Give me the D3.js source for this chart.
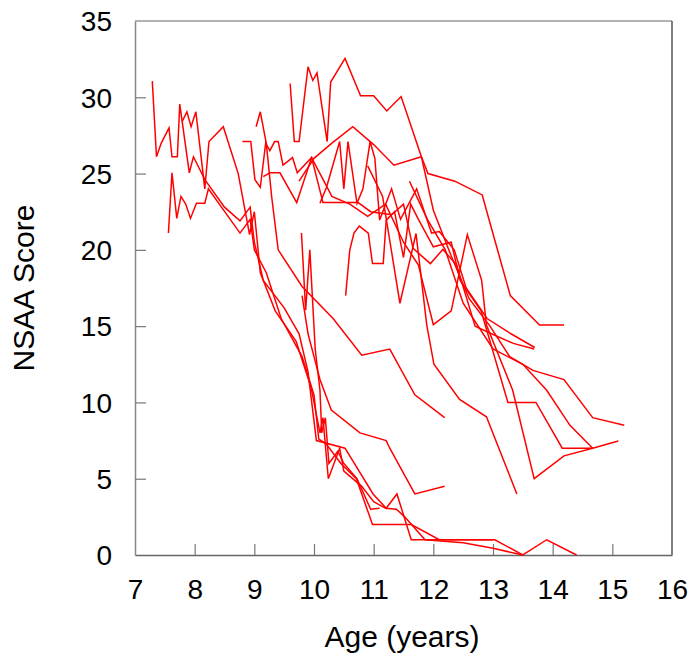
<!DOCTYPE html>
<html>
<head>
<meta charset="utf-8">
<script src="https://cdn.jsdelivr.net/npm/d3@7"></script>
<style>
  html, body { margin: 0; padding: 0; background: #fff; }
  svg { display: block; }
  text { font-family: "Liberation Sans", Arial, Helvetica, sans-serif; fill: #000; }
</style>
</head>
<body>
<svg id="chart" width="694" height="653"></svg>
<script>
// ---- data: each subject is a list of [age (years), NSAA score] ----
const s01 = [[9.6,30.9],[9.67,27.1],[9.75,27.1],[9.9,32.0],[9.98,31.1],[10.05,31.6],[10.22,27.1],[10.28,31.0],[10.52,32.55],[10.78,30.1],[11.0,30.1],[11.22,29.1],[11.46,30.05],[11.8,26.1],[12.0,22.6],[12.3,19.6],[12.6,16.8],[12.95,15.0],[13.28,13.0],[13.67,12.1],[14.19,11.5],[14.67,9.0],[15.2,8.5]];
const s02 = [[9.75,24.5],[10.0,26.0],[10.3,27.0],[10.65,28.07],[11.0,26.9],[11.34,25.55],[11.8,26.1],[11.91,25.0],[12.36,24.5],[12.82,23.6],[12.89,22.6],[13.29,17.0],[13.78,15.07],[14.19,15.07]];
const s03 = [[7.29,31.06],[7.36,26.1],[7.44,27.0],[7.57,28.0],[7.62,26.1],[7.71,26.1],[7.75,29.55],[7.91,25.05],[7.98,26.1],[8.17,24.6],[8.5,22.8],[8.76,21.9],[8.93,22.8],[9.0,20.5],[9.15,18.0],[9.5,16.2],[9.75,14.5],[9.9,12.0],[10.04,7.5],[10.52,7.0],[10.99,4.0],[11.21,3.06],[11.39,4.0],[11.63,1.0],[12.05,1.0],[13.03,1.0],[13.5,0],[13.9,1.0],[14.4,0]];
const s04 = [[7.79,28.4],[7.87,29.05],[7.94,28.07],[8.02,29.05],[8.17,24.0],[8.24,27.1],[8.48,28.07],[8.73,25.0],[8.92,21.0],[9.0,22.5],[9.1,18.5],[9.35,16.0],[9.7,14.0],[9.95,11.0],[10.1,8.0],[10.15,9.0],[10.24,5.0],[10.43,7.0],[10.5,5.5],[10.8,4.5],[11.0,3.5],[11.2,3.06],[11.38,3.0],[11.52,2.5],[11.86,1.0],[12.5,0.8],[13.0,0.44],[13.5,0]];
const s05 = [[7.56,21.1],[7.62,25.05],[7.70,22.06],[7.77,23.5],[7.85,23.0],[7.93,22.06],[8.03,23.05],[8.17,23.05],[8.23,24.0],[8.76,21.1],[8.93,22.0],[9.0,20.0],[9.2,18.5],[9.45,15.5],[9.8,13.0],[10.0,10.5],[10.08,7.6],[10.2,7.3],[10.45,6.0],[10.71,5.0],[10.98,2.0],[11.63,2.0],[12.1,1.0],[13.0,1.0]];
const s06 = [[9.03,28.07],[9.1,29.05],[9.2,27.0],[9.29,23.5],[9.4,20.0],[9.8,17.6],[10.32,15.5],[10.8,13.1],[11.27,13.5],[11.69,10.5],[12.19,9.0]];
const s07 = [[8.8,27.1],[8.94,27.1],[9.01,24.6],[9.1,24.1],[9.19,27.0],[9.26,26.5],[9.34,27.1],[9.4,27.1],[9.48,25.55],[9.64,26.05],[9.72,25.05],[9.96,26.05],[10.15,23.1],[10.74,23.1],[10.95,22.5],[11.3,22.3],[11.5,23.0],[11.66,20.1],[11.95,19.1],[12.16,20.03],[12.39,19.0],[12.7,15.0],[13.03,14.4],[13.34,13.87],[13.69,13.5]];
const s08 = [[9.15,24.8],[9.26,25.05],[9.43,25.05],[9.71,23.1],[9.96,26.05],[10.3,23.5],[10.6,23.0],[10.9,22.2],[11.2,23.0],[11.5,20.5],[11.75,19.0],[12.0,15.1],[12.3,16.0],[12.57,21.0],[12.81,18.0],[12.89,15.07],[13.33,10.8],[13.69,5.0],[14.19,6.5],[14.67,7.0],[15.1,7.47]];
const s09 = [[9.8,17.0],[9.9,14.5],[10.0,13.0],[10.1,11.5],[10.29,9.5],[10.77,8.0],[11.21,7.5],[11.27,7.0],[11.69,4.0],[12.19,4.5]];
const s10 = [[9.79,21.1],[9.86,16.05],[9.93,20.0],[10.02,13.5],[10.1,10.8],[10.13,8.0],[10.19,9.0],[10.25,6.0],[10.4,6.8],[10.5,6.0],[10.72,5.0],[10.95,3.0],[11.1,3.06]];
const s11 = [[10.53,17.0],[10.6,20.0],[10.67,21.1],[10.76,21.56],[10.91,21.1],[10.98,19.1],[11.16,19.1],[11.21,21.95],[11.35,22.5],[11.5,19.5],[11.62,23.0],[11.75,22.0],[12.0,20.2],[12.3,20.5],[12.45,18.0],[12.8,16.0],[13.25,10.0],[13.72,10.0],[14.16,7.0],[14.67,7.0]];
const s12 = [[10.9,25.5],[11.15,23.5],[11.44,16.5],[11.71,21.07],[11.89,15.07],[12.01,12.5],[12.44,10.2],[12.89,9.06],[13.4,4.0]];
const s13 = [[11.6,24.5],[11.9,22.0],[12.2,20.0],[12.5,16.5],[13.0,13.5],[13.5,12.5],[13.9,10.8],[14.29,8.5],[14.67,7.0]];
const s14 = [[10.1,23.05],[10.21,24.1],[10.43,27.1],[10.5,24.0],[10.57,27.1],[10.72,23.05],[10.82,24.0],[10.94,27.1],[11.02,26.0],[11.1,21.95],[11.3,24.0],[11.45,22.0],[11.72,24.0],[11.97,21.1],[12.1,21.2],[12.35,20.0],[12.55,17.5],[12.9,15.5],[13.3,14.5],[13.7,13.6]];
const subjects = [s01, s02, s03, s04, s05, s06, s07, s08, s09, s10, s11, s12, s13, s14];

const xTicks = [7, 8, 9, 10, 11, 12, 13, 14, 15, 16];
const yTicks = [0, 5, 10, 15, 20, 25, 30, 35];
const xTitle = "Age (years)";
const yTitle = "NSAA Score";

// ---- layout ----
const svg = d3.select("#chart");
const x = d3.scaleLinear().domain([7, 16]).range([135, 672]);
const y = d3.scaleLinear().domain([0, 35]).range([555, 21]);

// frame
const frame = svg.append("g");
frame.append("line").attr("x1", x(7)).attr("x2", x(16)).attr("y1", y(35)).attr("y2", y(35))
  .attr("stroke", "#999").attr("stroke-width", 1.5);
frame.append("line").attr("x1", x(16)).attr("x2", x(16)).attr("y1", y(35)).attr("y2", y(0))
  .attr("stroke", "#555").attr("stroke-width", 1.5);

// x axis (ticks inward)
const xAxis = svg.append("g").attr("transform", `translate(0,${y(0)})`)
  .call(d3.axisBottom(x).tickValues(xTicks).tickSizeInner(-11).tickSizeOuter(0).tickFormat(d3.format("d")));
xAxis.select(".domain").attr("stroke", "#666").attr("stroke-width", 1.5);
xAxis.selectAll(".tick line").attr("stroke", "#777").attr("stroke-width", 1.2);
xAxis.selectAll(".tick text").attr("font-size", 28).attr("y", 44).attr("dy", 0)
  .style("font-family", '"Liberation Sans", Arial, sans-serif').attr("fill", "#000");

// y axis (ticks inward)
const yAxis = svg.append("g").attr("transform", `translate(${x(7)},0)`)
  .call(d3.axisLeft(y).tickValues(yTicks).tickSizeInner(-11).tickSizeOuter(0).tickFormat(d3.format("d")));
yAxis.select(".domain").attr("stroke", "#888").attr("stroke-width", 1.5);
yAxis.selectAll(".tick line").attr("stroke", "#777").attr("stroke-width", 1.2);
yAxis.selectAll(".tick text").attr("font-size", 28).attr("x", -23).attr("dy", "0.35em")
  .style("font-family", '"Liberation Sans", Arial, sans-serif').attr("fill", "#000");
// hide ticks at the extreme ends that sit on the frame
xAxis.selectAll(".tick").filter(d => d === 7 || d === 16).select("line").remove();
yAxis.selectAll(".tick").filter(d => d === 0 || d === 35).select("line").remove();

// lines
const line = d3.line().x(d => x(d[0])).y(d => y(d[1]));
svg.append("g").selectAll("path").data(subjects).join("path")
  .attr("d", line)
  .attr("fill", "none")
  .attr("stroke", "#ff0000")
  .attr("stroke-width", 1.5)
  .attr("stroke-linejoin", "miter");

// titles
svg.append("text").attr("x", 402).attr("y", 647).attr("text-anchor", "middle")
  .attr("font-size", 30).text(xTitle);
svg.append("text").attr("transform", `translate(34,${(y(0) + y(35)) / 2}) rotate(-90)`)
  .attr("text-anchor", "middle").attr("font-size", 30).text(yTitle);
</script>
</body>
</html>
